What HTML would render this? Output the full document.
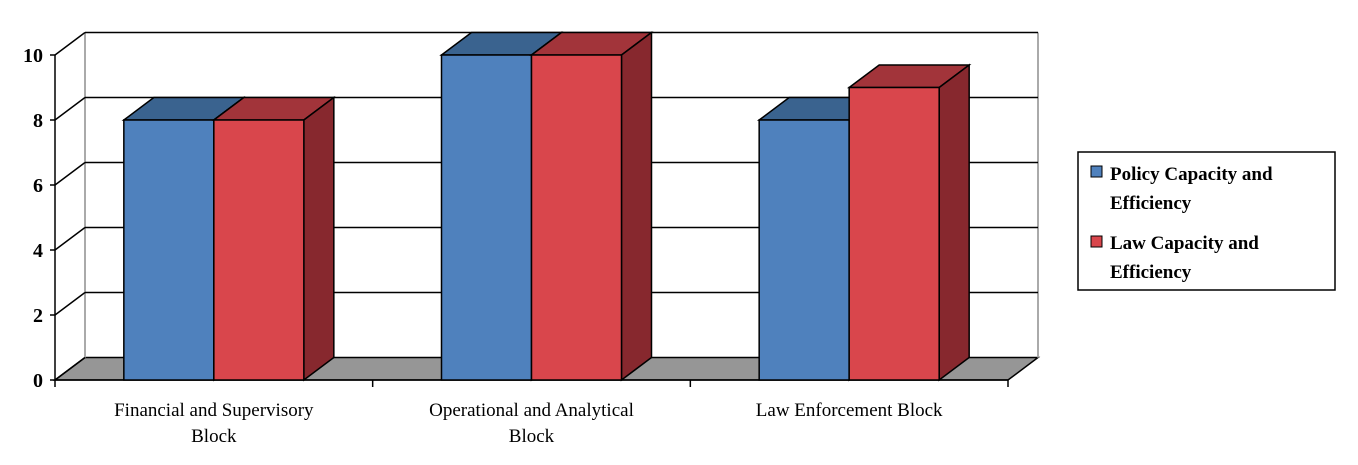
<!DOCTYPE html>
<html><head><meta charset="utf-8"><style>
body{margin:0;background:#fff;}
svg text{font-family:"Liberation Serif",serif;}
</style></head><body>
<svg width="1358" height="460" xmlns="http://www.w3.org/2000/svg">
<g id="axes"></g>
<g id="bars"></g>
<g>
<rect x="1078" y="152" width="257" height="138" fill="#fff" stroke="#000" stroke-width="1.5"/>
<rect x="1091" y="166" width="11" height="11" fill="#4f81bd" stroke="#000"/>
<text x="1110" y="180" font-size="19" font-weight="bold">Policy Capacity and</text>
<text x="1110" y="209" font-size="19" font-weight="bold">Efficiency</text>
<rect x="1091" y="236" width="11" height="11" fill="#d9464c" stroke="#000"/>
<text x="1110" y="249" font-size="19" font-weight="bold">Law Capacity and</text>
<text x="1110" y="278" font-size="19" font-weight="bold">Efficiency</text>
</g>
</svg>
<script>
const categories=["Financial and Supervisory|Block","Operational and Analytical|Block","Law Enforcement Block"];
const policyValues=[8,10,8];
const lawValues=[8,10,9];
const yTicks=[0,2,4,6,8,10];
const NS="http://www.w3.org/2000/svg";
const X0=55,X1=1008,Y0=380,PX=32.5,DX=30,DY=-22.5;
const y=v=>Y0-v*PX;
const catW=(X1-X0)/categories.length;
const barW=90;
function mk(p,tag,a){const e=document.createElementNS(NS,tag);for(const k in a)e.setAttribute(k,a[k]);p.appendChild(e);return e;}
const ax=document.getElementById('axes');
// floor
let fl=mk(ax,'polygon',{points:`${X0},${Y0} ${X1},${Y0} ${X1+DX},${Y0+DY} ${X0+DX},${Y0+DY}`,fill:'#969696',stroke:'#000','stroke-width':1.5});


mk(ax,'line',{x1:X0+DX,y1:y(10)+DY,x2:X0+DX,y2:Y0+DY,stroke:'#aaa','stroke-width':2});
mk(ax,'line',{x1:X1+DX,y1:y(10)+DY,x2:X1+DX,y2:Y0+DY,stroke:'#aaa','stroke-width':2});
yTicks.forEach(t=>{
  if(t>0){let g=mk(ax,'line',{x1:X0+DX,y1:y(t)+DY,x2:X1+DX,y2:y(t)+DY,stroke:'#000','stroke-width':1.5});
  
  }
  mk(ax,'line',{x1:X0,y1:y(t),x2:X0+DX,y2:y(t)+DY,stroke:'#000','stroke-width':1.5});
  mk(ax,'line',{x1:X0-5,y1:y(t),x2:X0,y2:y(t),stroke:'#000','stroke-width':1.5});
  let tx=mk(ax,'text',{x:X0-12,y:y(t)+7,'text-anchor':'end','font-size':20,'font-weight':'bold'});
  tx.textContent=t;
  
  
});
mk(ax,'line',{x1:X0,y1:y(10),x2:X0,y2:Y0,stroke:'#000','stroke-width':1.5});
mk(ax,'line',{x1:X0,y1:Y0,x2:X1,y2:Y0,stroke:'#000','stroke-width':1.5});
for(let i=0;i<=categories.length;i++){mk(ax,'line',{x1:X0+i*catW,y1:Y0,x2:X0+i*catW,y2:Y0+7,stroke:'#000','stroke-width':1.5});}
categories.forEach((c,i)=>{
  c.split('|').forEach((ln,j)=>{
    let t=mk(ax,'text',{x:X0+(i+0.5)*catW,y:416+j*26,'text-anchor':'middle','font-size':19});
    t.textContent=ln;
    
    
  });
});
const bg=document.getElementById('bars');
function bar(x,v,front,top,side,name){
  const g=mk(bg,'g',{});
  
  
  const yt=y(v);
  mk(g,'polygon',{points:`${x},${yt} ${x+DX},${yt+DY} ${x+barW+DX},${yt+DY} ${x+barW},${yt}`,fill:top,stroke:'#000','stroke-width':1.5});
  mk(g,'polygon',{points:`${x+barW},${yt} ${x+barW+DX},${yt+DY} ${x+barW+DX},${Y0+DY} ${x+barW},${Y0}`,fill:side,stroke:'#000','stroke-width':1.5});
  mk(g,'rect',{x:x,y:yt,width:barW,height:Y0-yt,fill:front,stroke:'#000','stroke-width':1.5});
}
categories.forEach((c,i)=>{
  const gx=X0+i*catW+(catW-2*barW)/2;
  bar(gx,policyValues[i],'#4f81bd','#3a638f','#2f5280','bar-policy-'+i);
  bar(gx+barW,lawValues[i],'#d9464c','#a2343a','#87282e','bar-law-'+i);
});
</script>
</body></html>
